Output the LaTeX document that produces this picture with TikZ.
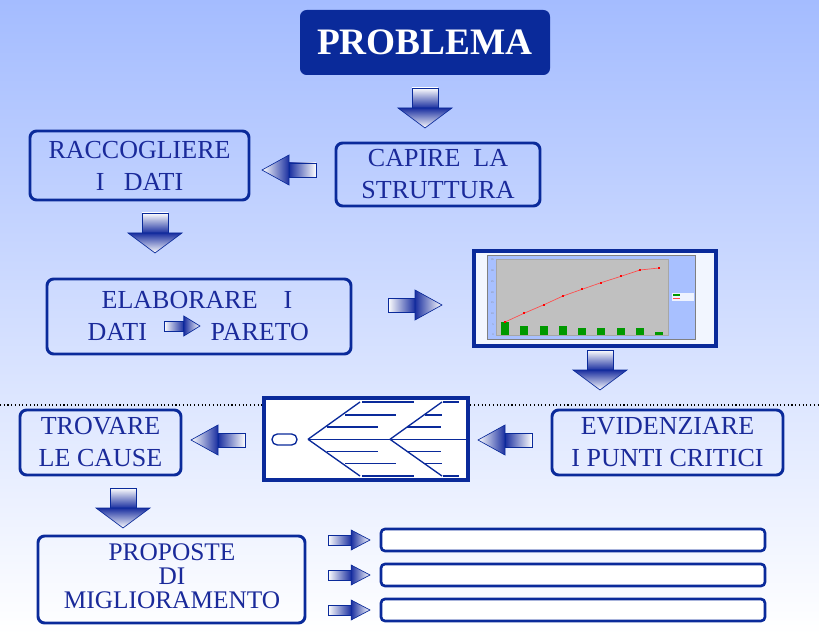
\documentclass[tikz,border=0pt]{standalone}
\usepackage{fontspec}
\setmainfont{Liberation Serif}
\begin{document}
\definecolor{bgtop}{HTML}{A4BCFF}
\definecolor{dblue}{HTML}{0A2A9A}
\definecolor{tblue}{HTML}{1A2A9A}
\definecolor{ablue}{HTML}{1A2FA0}
\definecolor{panel}{HTML}{A8C0FF}
\definecolor{plotg}{HTML}{C0C0C0}
\newcommand\dnarrow[2]{%
  \shade[top color=white,bottom color=ablue,draw=dblue,line width=0.5pt] (#1-13,#2) rectangle (#1+13,#2+20);
  \shade[top color=ablue,bottom color=white,draw=dblue,line width=0.5pt] (#1-27,#2+20) -- (#1+27,#2+20) -- (#1,#2+40) -- cycle;}
\newcommand\rtarrow[2]{%
  \shade[left color=white,right color=ablue,draw=dblue,line width=0.5pt] (#1,#2-7) rectangle (#1+27,#2+7);
  \shade[left color=ablue,right color=white,draw=dblue,line width=0.5pt] (#1+27,#2-15) -- (#1+27,#2+15) -- (#1+54,#2) -- cycle;}
\newcommand\lfarrow[2]{%
  \shade[right color=white,left color=ablue,draw=dblue,line width=0.5pt] (#1+27,#2-7) rectangle (#1+54,#2+7);
  \shade[right color=ablue,left color=white,draw=dblue,line width=0.5pt] (#1+27,#2-15) -- (#1+27,#2+15) -- (#1,#2) -- cycle;}
\newcommand\smarrow[3]{%
  \shade[left color=white,right color=ablue,draw=dblue,line width=0.5pt] (#1,#2-5) rectangle (#1+#3*0.55,#2+5);
  \shade[left color=ablue,right color=white,draw=dblue,line width=0.5pt] (#1+#3*0.55,#2-10) -- (#1+#3*0.55,#2+10) -- (#1+#3,#2) -- cycle;}
\begin{tikzpicture}[x=0.75pt,y=-0.75pt,
  box/.style={draw=dblue,line width=2.2pt,rounded corners=5pt,text=tblue,font=\fontsize{19.5}{24}\selectfont,align=center,inner sep=0pt},
  bar/.style={draw=dblue,line width=2pt,rounded corners=3pt,fill=white}]
\shade[top color=bgtop,bottom color=white] (0,0) rectangle (819,635);
\useasboundingbox (0,0) rectangle (819,635);
\draw[black,line width=0.8pt,dotted] (0,405) -- (819,405);
% top
\node[fill=dblue,rounded corners=5pt,text=white,font=\bfseries\fontsize{28}{30}\selectfont,minimum width=250*0.75pt,minimum height=65*0.75pt,inner sep=0pt] (prob) at (425,42.5) {PROBLEMA};
\dnarrow{425}{88}
\node[box,minimum width=204*0.75pt,minimum height=63*0.75pt] (capire) at (438,174.5) {CAPIRE\ \ LA\\STRUTTURA};
\node[box,minimum width=219*0.75pt,minimum height=69*0.75pt] (racc) at (139.5,165.5) {RACCOGLIERE\\I\ \ \ DATI};
\lfarrow{262}{170}
\dnarrow{155}{213}
\node[box,minimum width=304*0.75pt,minimum height=75*0.75pt] (elab) at (199,316.5) {};
\node[text=tblue,font=\fontsize{19.5}{24}\selectfont] (t1) at (197,300) {ELABORARE\ \ \ \ I};
\node[text=tblue,font=\fontsize{19.5}{24}\selectfont,anchor=west] (t2) at (83,332) {DATI};
\node[text=tblue,font=\fontsize{19.5}{24}\selectfont,anchor=west] (t3) at (206,332) {PARETO};
\smarrow{164}{326}{36}
\rtarrow{388}{305}
% chart
\node[draw=dblue,line width=2.5pt,fill=white!85!panel,minimum width=242*0.75pt,minimum height=95*0.75pt,inner sep=0pt] (chart) at (595,298.5) {};
\fill[panel] (487,255) rectangle (695,339);
\draw[gray,line width=0.4pt] (487,255) rectangle (695,339);
\fill[plotg] (496,259) rectangle (668,335);
\draw[gray!70,line width=0.4pt] (496,259) rectangle (668,335);
\foreach \x/\t in {505/322,524/326,544/326,563/326,582/328,601/328,621/328,640/328,659/332}
  \fill[green!60!black] (\x-4,\t) rectangle (\x+4,335);
\draw[red!70,line width=0.5pt] (505,322) -- (524,313.3) -- (544,304.7) -- (563,296) -- (582,289.3) -- (601,282.7) -- (621,276.3) -- (640,270) -- (659,268);
\foreach \x/\y in {505/322,524/313.3,544/304.7,563/296,582/289.3,601/282.7,621/276.3,640/270,659/268}
  \fill[red] (\x-1,\y-1) rectangle (\x+1,\y+1);
\foreach \i in {0,...,7}
  \node[font=\fontsize{2}{2}\selectfont,text=gray,inner sep=0pt,anchor=east] at (494,335-\i*10.7) {\the\numexpr\i*5\relax};
\fill[white!80!panel] (672,293) rectangle (694,301);
\fill[green!60!black] (673,294) rectangle (680,296);
\draw[red!70,line width=0.3pt] (673,298.5) -- (680,298.5);
\dnarrow{600}{350}
% fishbone
\node[draw=dblue,line width=2.5pt,fill=white,minimum width=204*0.75pt,minimum height=82*0.75pt,inner sep=0pt] (fish) at (366,439) {};
\begin{scope}[dblue,line width=1pt]
\draw[rounded corners=4pt] (272,434) rectangle (297,445);
\draw (308,439.3) -- (467,439.3);
\draw (308,439.3) -- (360,402) (308,439.3) -- (360,476);
\draw (390,439.3) -- (442,402) (390,439.3) -- (442,476);
\foreach \y/\a/\b in {402/362/414,415/345/396,427/327/378,451.6/327/378,463.6/345/396,476/362/414,402/443/459,415/425/442,427/407/441,451.6/407/441,463.6/425/442,476/443/459}
  \draw (\a,\y) -- (\b,\y);
\end{scope}
\lfarrow{478}{440}
\node[box,minimum width=231*0.75pt,minimum height=65*0.75pt] (evid) at (667.5,442.5) {EVIDENZIARE\\I PUNTI CRITICI};
\lfarrow{191}{440}
\node[box,minimum width=161*0.75pt,minimum height=65*0.75pt] (trov) at (100.5,442.5) {TROVARE\\LE CAUSE};
\dnarrow{123}{488}
\node[box,minimum width=267*0.75pt,minimum height=87*0.75pt] (prop) at (171.5,579.5) {};
\node[text=tblue,font=\fontsize{19}{18}\selectfont,align=center] (pt) at (172,576) {PROPOSTE\\DI\\MIGLIORAMENTO};
\foreach \y/\n in {540/b1,575/b2,610/b3}{
  \smarrow{328}{\y}{42}
  \node[bar,minimum width=384*0.75pt,minimum height=22*0.75pt,inner sep=0pt] (\n) at (573,\y) {};}
\end{tikzpicture}
\end{document}
